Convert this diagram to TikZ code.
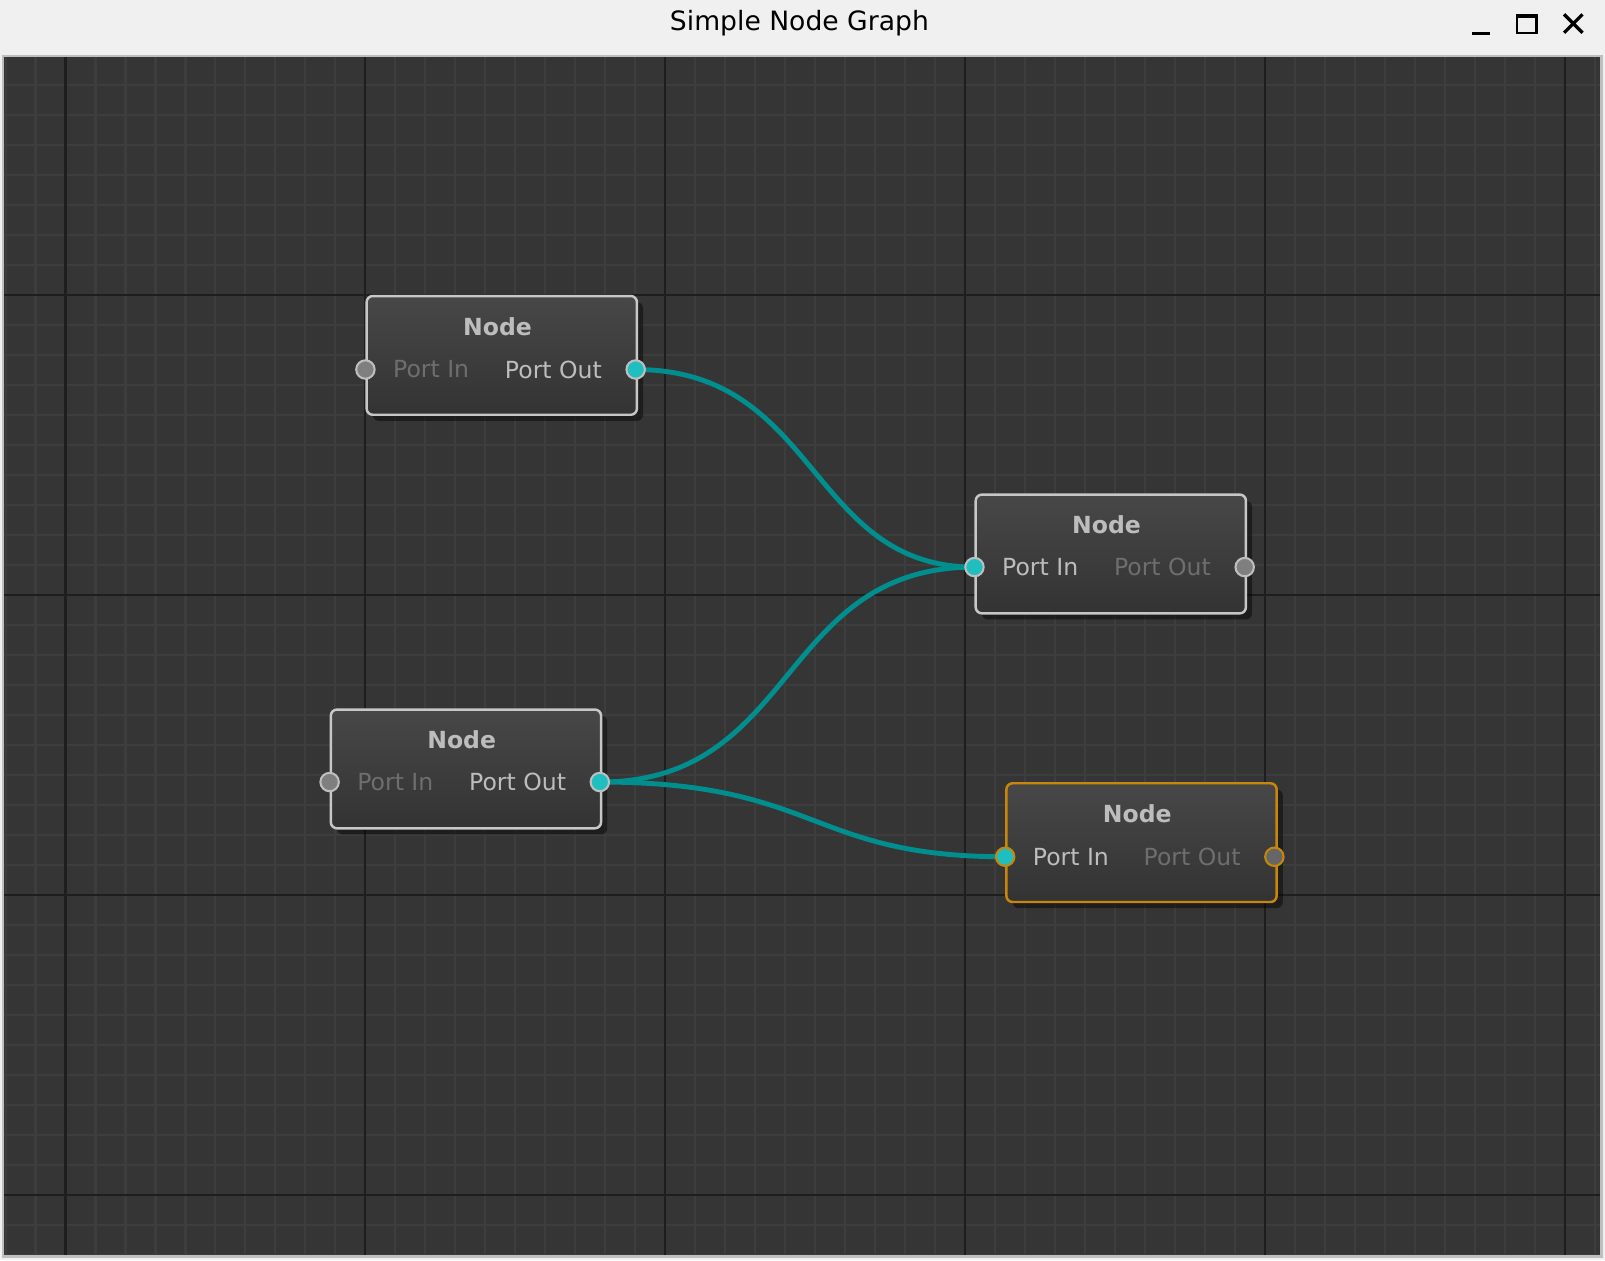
\documentclass[tikz,border=0pt]{standalone}
\usepackage{fontspec}
\setmainfont{DejaVu Sans}
\usetikzlibrary{shadows}
\definecolor{canvas}{HTML}{353535}
\definecolor{minorl}{HTML}{3D3D3D}
\definecolor{majorl}{HTML}{1E1E1E}
\definecolor{wire}{HTML}{008E8E}
\definecolor{cyanp}{HTML}{1FBFBF}
\definecolor{greyp}{HTML}{7F7F7F}
\definecolor{txtb}{HTML}{BDBDBD}
\definecolor{txtd}{HTML}{6E6E6E}
\definecolor{orng}{HTML}{C8860B}
\tikzset{
  x=0.5pt,y=-0.5pt,
  nodebox/.style={draw=#1,line width=1.2pt,rounded corners=3pt,top color=black!72,bottom color=black!80,
     minimum width=132pt,minimum height=58pt,anchor=north west,inner sep=0pt,
     drop shadow={shadow xshift=3pt,shadow yshift=-3pt,opacity=0.45,fill=black}},
  ttl/.style={font=\fontsize{11.5}{12}\selectfont\bfseries,text=txtb},
  lbl/.style={font=\fontsize{11.5}{12}\selectfont,text=#1},
  port/.style={circle,draw=#1,line width=1pt,minimum size=9pt,inner sep=0pt},
  wirel/.style={draw=wire,line width=2.4pt}
}
\newcommand{\gnode}[5]{% name, x, y, border, portcolors
}
\begin{document}
\begin{tikzpicture}
\useasboundingbox (0,0) rectangle (1568,1231);
\fill[white!94!black] (0,0) rectangle (1568,1231);
\node[font=\fontsize{13}{14}\selectfont,text=black] (title) at (781,23) {Simple Node Graph};
% window buttons
\draw[line width=1.6pt] (1438,33) -- (1456,33);
\draw[line width=1.2pt] (1482,15) rectangle (1501,32);
\draw[line width=1.6pt] (1482,15.5) -- (1501,15.5);
\draw[line width=1.6pt] (1528,14) -- (1546,32) (1546,14) -- (1528,32);
% canvas
\fill[black!25] (2,54) rectangle (1566,1229);
\fill[canvas] (4,56) rectangle (1563,1226);
\begin{scope}
\clip (4,56) rectangle (1563,1226);
\foreach \i in {-2,...,52} \draw[minorl,line width=1pt] ({64+29.3*\i},56) -- ({64+29.3*\i},1226);
\foreach \i in {-9,...,33} \draw[minorl,line width=1pt] (4,{288+29.3*\i}) -- (1563,{288+29.3*\i});
\foreach \i in {0,...,5} \draw[majorl,line width=1pt] ({64+293*\i},56) -- ({64+293*\i},1226);
\foreach \i in {-1,...,3} \draw[majorl,line width=1pt] (4,{288+293*\i}) -- (1563,{288+293*\i});
\end{scope}
% nodes
\node[nodebox=black!22] (n1) at (357,288) {};
\node[nodebox=black!22] (n2) at (952,482) {};
\node[nodebox=black!22] (n3) at (322,692) {};
\node[nodebox=orng] (n4) at (982,764) {};
\foreach \n/\x/\y in {n1/357/288,n2/952/482,n3/322/692,n4/982/764}{
  \node[ttl] (\n t) at (\x+129,\y+31) {Node};
}
% wires
\coordinate (o1) at (621,361);
\coordinate (i2) at (952,554);
\coordinate (o3) at (586,764);
\coordinate (i4) at (982,837);
\draw[wirel] (o1) .. controls (800,361) and (790,554) .. (i2);
\draw[wirel] (o3) .. controls (780,764) and (760,554) .. (i2);
\draw[wirel] (o3) .. controls (800,764) and (790,837) .. (i4);
% ports and labels
\node[port=black!25,fill=greyp] (p1i) at (357,361) {};
\node[port=black!25,fill=cyanp] (p1o) at (o1) {};
\node[lbl=txtd,anchor=west] at (377,361) {Port In};
\node[lbl=txtb,anchor=east] at (595,361) {Port Out};
\node[port=black!25,fill=cyanp] (p2i) at (i2) {};
\node[port=black!25,fill=greyp] (p2o) at (1216,554) {};
\node[lbl=txtb,anchor=west] at (972,554) {Port In};
\node[lbl=txtd,anchor=east] at (1190,554) {Port Out};
\node[port=black!25,fill=greyp] (p3i) at (322,764) {};
\node[port=black!25,fill=cyanp] (p3o) at (o3) {};
\node[lbl=txtd,anchor=west] at (342,764) {Port In};
\node[lbl=txtb,anchor=east] at (560,764) {Port Out};
\node[port=orng,fill=cyanp] (p4i) at (i4) {};
\node[port=orng,fill=greyp!80!black] (p4o) at (1245,837) {};
\node[lbl=txtb,anchor=west] at (1002,837) {Port In};
\node[lbl=txtd,anchor=east] at (1219,837) {Port Out};
\end{tikzpicture}
\end{document}
